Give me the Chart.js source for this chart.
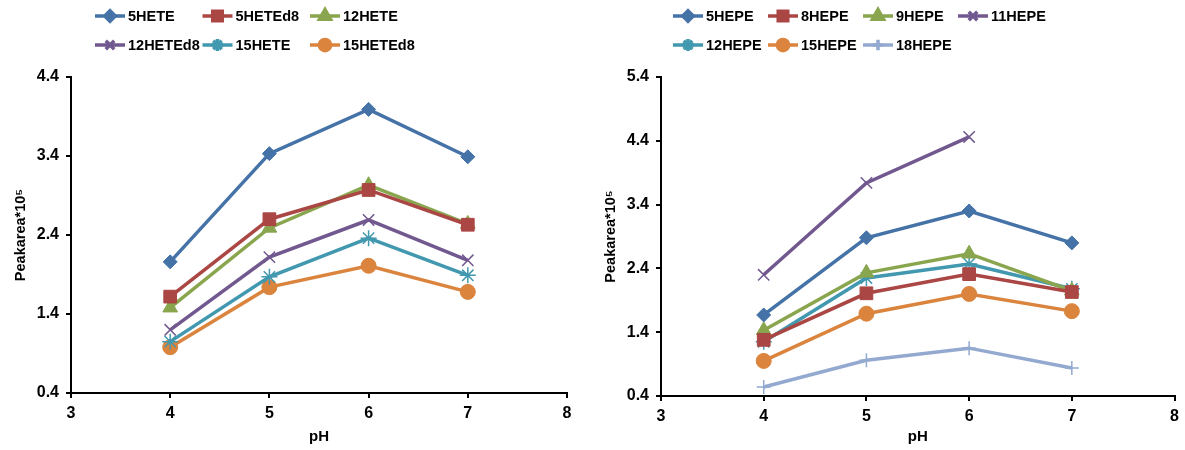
<!DOCTYPE html>
<html>
<head>
<meta charset="utf-8">
<script src="https://cdn.jsdelivr.net/npm/chart.js@4"></script>
<style>
  body { margin: 0; background: #fff; }
  .wrap { display: flex; width: 1185px; height: 450px; }
  canvas { display: block; }
</style>
</head>
<body>
<div class="wrap">
  <canvas id="heteChart" width="590" height="450"></canvas>
  <canvas id="hepeChart" width="595" height="450"></canvas>
</div>
<script>
// pH values shared by both panels
var phValues = [4, 5, 6, 7];
var xTicks = [3, 4, 5, 6, 7, 8];

// left panel (HETE)
var heteNames = ['5HETE', '5HETEd8', '12HETE', '12HETEd8', '15HETE', '15HETEd8'];
var hete5    = [2.06, 3.43, 3.99, 3.39];
var hete5d8  = [1.62, 2.60, 2.97, 2.53];
var hete12   = [1.48, 2.49, 3.03, 2.54];
var hete12d8 = [1.20, 2.12, 2.59, 2.08];
var hete15   = [1.05, 1.87, 2.36, 1.89];
var hete15d8 = [0.98, 1.74, 2.01, 1.68];
var heteTicks = [0.4, 1.4, 2.4, 3.4, 4.4];

// right panel (HEPE)
var hepeNames = ['5HEPE', '8HEPE', '9HEPE', '11HEPE', '12HEPE', '15HEPE', '18HEPE'];
var hepe5  = [1.67, 2.88, 3.30, 2.80];
var hepe8  = [1.28, 2.01, 2.31, 2.03];
var hepe9  = [1.43, 2.33, 2.63, 2.05];
var hepe11 = [2.30, 3.74, 4.46, null];
var hepe12 = [1.25, 2.25, 2.47, 2.08];
var hepe15 = [0.95, 1.69, 2.00, 1.73];
var hepe18 = [0.54, 0.96, 1.15, 0.84];
var hepeTicks = [0.4, 1.4, 2.4, 3.4, 4.4, 5.4];

var colors = ['#4572A7', '#AA4643', '#89A54E', '#71588F', '#4198AF', '#DB843D', '#93A9CF'];
// marker style per series slot: [pointStyle, radius, borderWidth]
var markers = [
  ['rectRot', 7, 1],
  ['rect', 9, 1],
  ['triangle', 8.5, 1],
  ['crossRot', 8, 1.5],
  ['star', 8, 1.5],
  ['circle', 7.5, 1],
  ['cross', 7, 1.5]
];

Chart.defaults.font.family = '"Liberation Sans", Arial, sans-serif';
Chart.defaults.font.weight = 'bold';
Chart.defaults.color = '#000';

function toPoints(values) {
  return values.map(function(v, i) { return { x: phValues[i], y: v }; })
               .filter(function(p) { return p.y !== null; });
}

function makeDataset(name, values, i) {
  var m = markers[i];
  return {
    label: name,
    data: toPoints(values),
    borderColor: colors[i],
    backgroundColor: colors[i],
    borderWidth: 3.5,
    pointStyle: m[0],
    pointRadius: m[1],
    pointBorderWidth: m[2],
    pointBackgroundColor: colors[i],
    pointBorderColor: colors[i],
    tension: 0
  };
}

// legend drawn as a grid, the way the original spreadsheet lays it out
var gridLegend = {
  id: 'gridLegend',
  afterDraw: function(chart, args, opts) {
    var ctx = chart.ctx;
    ctx.save();
    chart.data.datasets.forEach(function(ds, i) {
      var col = i % opts.cols, row = Math.floor(i / opts.cols);
      var x0 = opts.startX + col * opts.colW;
      var y = opts.rowY[row];
      ctx.strokeStyle = ds.borderColor;
      ctx.lineWidth = 3.5;
      ctx.beginPath();
      ctx.moveTo(x0, y);
      ctx.lineTo(x0 + 30, y);
      ctx.stroke();
      ctx.fillStyle = ds.borderColor;
      ctx.strokeStyle = ds.borderColor;
      Chart.helpers.drawPoint(ctx, {
        pointStyle: ds.pointStyle,
        radius: ds.pointRadius * 0.75,
        rotation: 0,
        borderWidth: ds.pointBorderWidth
      }, x0 + 15, y);
      ctx.fillStyle = '#000';
      ctx.font = 'bold 14.5px "Liberation Sans", Arial, sans-serif';
      ctx.textBaseline = 'middle';
      ctx.fillText(ds.label, x0 + 33, y + 1);
    });
    ctx.restore();
  }
};

function makeChart(id, datasets, yTicks, opts) {
  var axisGrid = { drawOnChartArea: false, drawTicks: true, tickLength: 5, color: '#000', lineWidth: 2 };
  return new Chart(document.getElementById(id), {
    type: 'line',
    data: { datasets: datasets },
    plugins: [gridLegend],
    options: {
      responsive: false,
      animation: false,
      devicePixelRatio: 1,
      layout: { padding: { left: 0, right: opts.padRight, top: 77, bottom: 0 } },
      plugins: {
        legend: { display: false },
        tooltip: { enabled: false },
        gridLegend: opts.legend
      },
      scales: {
        x: {
          type: 'linear',
          min: xTicks[0],
          max: xTicks[xTicks.length - 1],
          afterBuildTicks: function(s) { s.ticks = xTicks.map(function(v) { return { value: v }; }); },
          afterFit: function(s) { s.height = opts.xHeight; },
          border: { display: true, color: '#000', width: 2 },
          grid: axisGrid,
          ticks: { font: { size: 16, weight: 'bold' }, padding: 6 },
          title: { display: true, text: 'pH', font: { size: 15, weight: 'bold' }, padding: { top: 0, bottom: 4 } }
        },
        y: {
          type: 'linear',
          min: yTicks[0],
          max: yTicks[yTicks.length - 1],
          afterBuildTicks: function(s) { s.ticks = yTicks.map(function(v) { return { value: v }; }); },
          afterFit: function(s) { s.width = 71; },
          border: { display: true, color: '#000', width: 2 },
          grid: axisGrid,
          ticks: { font: { size: 16, weight: 'bold' }, padding: 7, callback: function(v) { return Number(v).toFixed(1); } },
          title: { display: true, text: 'Peakarea*10\u2075', font: { size: 14.5, weight: 'bold' }, padding: { top: 12 } }
        }
      }
    }
  });
}

makeChart('heteChart',
  [hete5, hete5d8, hete12, hete12d8, hete15, hete15d8].map(function(v, i) { return makeDataset(heteNames[i], v, i); }),
  heteTicks,
  { padRight: 23, xHeight: 57, legend: { startX: 95, colW: 107.5, cols: 3, rowY: [16, 45] } });

makeChart('hepeChart',
  [hepe5, hepe8, hepe9, hepe11, hepe12, hepe15, hepe18].map(function(v, i) { return makeDataset(hepeNames[i], v, i); }),
  hepeTicks,
  { padRight: 9, xHeight: 54, legend: { startX: 83, colW: 95, cols: 4, rowY: [16, 45] } });
</script>
</body>
</html>
